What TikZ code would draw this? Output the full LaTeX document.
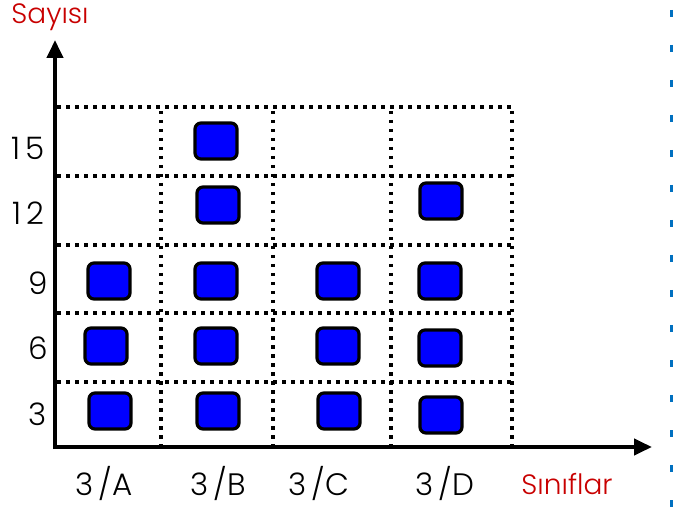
\documentclass[tikz,border=0pt]{standalone}
\usepackage{fontspec}
\setmainfont{Poppins}[UprightFont=* Light]
\usetikzlibrary{arrows.meta, positioning}
\definecolor{koyukirmizi}{RGB}{200,0,0}
\definecolor{kenarmavi}{RGB}{0,112,192}

\begin{document}
\begin{tikzpicture}[x=1pt, y=-1pt]

  % Define styles
  \tikzstyle{kutu} = [rectangle, draw, line width=3.2pt, rounded corners=6pt, fill=blue, minimum width=42pt, minimum height=36pt, inner sep=0pt]
  \tikzstyle{eksen} = [draw, line width=4pt, -{Triangle[length=18pt, width=16pt]}]
  \tikzstyle{nokta} = [draw, line width=3.5pt, dash pattern=on 3.5pt off 5.5pt]
  \tikzstyle{etiket} = [font=\fontsize{31}{33}\selectfont, inner sep=0pt]
  \tikzstyle{baslik} = [font=\fontsize{28}{30}\selectfont, text=koyukirmizi, inner sep=0pt]

  \useasboundingbox (0,0) rectangle (673,508);

  % Grid
  \draw[nokta] (57,107) -- (512,107);
  \draw[nokta] (57,176) -- (512,176);
  \draw[nokta] (57,245) -- (512,245);
  \draw[nokta] (57,313) -- (512,313);
  \draw[nokta] (57,382) -- (512,382);
  \draw[nokta] (161,111) -- (161,447);
  \draw[nokta] (273,111) -- (273,447);
  \draw[nokta] (391,111) -- (391,447);
  \draw[nokta] (512,111) -- (512,447);

  % Axes
  \coordinate (o) at (55,447);
  \coordinate (ytip) at (55,40);
  \coordinate (xtip) at (652,447);
  \draw[eksen] ([yshift=-2pt]o) -- (ytip);
  \draw[eksen] ([xshift=-2pt]o) -- (xtip);

  % Axis titles
  \node[baslik] (sayisi) at (50,17) {Sayısı};
  \node[baslik] (siniflar) at (567,484) {Sınıflar};

  % Y labels
  \node[etiket] (y15) at (28,148) {1\,5};
  \node[etiket] (y12) at (28,213) {1\,2};
  \node[etiket] (y9) at (38,283) {9};
  \node[etiket] (y6) at (38,348) {6};
  \node[etiket] (y3) at (38,414) {3};

  % X labels
  \node[etiket] (a) at (104,484) {3\,/A};
  \node[etiket] (b) at (218,484) {3\,/B};
  \node[etiket] (c) at (319,484) {3\,/C};
  \node[etiket] (d) at (445,484) {3\,/D};

  % 3/A
  \node[kutu] (a1) at (110,411) {};
  \node[kutu] (a2) at (106,346) {};
  \node[kutu] (a3) at (109,281) {};

  % 3/B
  \node[kutu] (b1) at (218,411) {};
  \node[kutu] (b2) at (216,346) {};
  \node[kutu] (b3) at (216,281) {};
  \node[kutu] (b4) at (218,205) {};
  \node[kutu] (b5) at (216,141) {};

  % 3/C
  \node[kutu] (c1) at (339,411) {};
  \node[kutu] (c2) at (338,346) {};
  \node[kutu] (c3) at (338,281) {};

  % 3/D
  \node[kutu] (d1) at (441,415) {};
  \node[kutu] (d2) at (440,348) {};
  \node[kutu] (d3) at (440,281) {};
  \node[kutu] (d4) at (441,201) {};

  % Page edge
  \draw[kenarmavi, line width=2.5pt, dash pattern=on 7pt off 28pt] (671.5,10) -- (671.5,508);

\end{tikzpicture}
\end{document}
